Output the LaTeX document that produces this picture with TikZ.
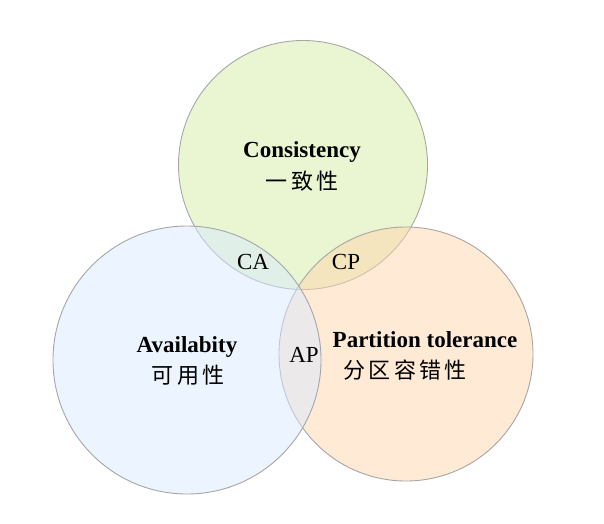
\documentclass[tikz,border=0pt]{standalone}
\usepackage{fontspec}
\setmainfont{Liberation Serif}
\newfontfamily\cjk{Noto Sans CJK SC}
\definecolor{cgreen}{RGB}{213,237,165}
\definecolor{ablue}{RGB}{215,233,255}
\definecolor{porange}{RGB}{255,213,173}
\newcommand{\zhgap}{\kern3.5pt}

\begin{document}
\begin{tikzpicture}[x=1pt, y=-1pt,
  set/.style={circle, draw=gray!70, line width=0.9pt, fill opacity=0.5, inner sep=0pt},
  title/.style={anchor=base, font=\fontsize{23}{26}\selectfont\bfseries},
  zh/.style={font=\fontsize{22}{24}\selectfont\cjk},
  pair/.style={anchor=base, font=\fontsize{23}{26}\selectfont}]
  \useasboundingbox (0,0) rectangle (604,523);
  % the three sets
  \node[set, minimum size=249pt, fill=cgreen] (C) at (303,165) {};
  \node[set, minimum size=254pt, fill=porange] (P) at (406,354) {};
  \node[set, minimum size=268pt, fill=ablue] (A) at (187,360) {};
  % names
  \node[title] (cname) at (302,157) {Consistency};
  \node[zh] (czh) at (302,181) {一\zhgap 致\zhgap 性};
  \node[title] (aname) at (187,352) {Availabity};
  \node[zh] (azh) at (188,375) {可\zhgap 用\zhgap 性};
  \node[title] (pname) at (425,347) {Partition tolerance};
  \node[zh] (pzh) at (405,370) {分\zhgap 区\zhgap 容\zhgap 错\zhgap 性};
  % overlaps
  \node[pair] (ca) at (253,269) {CA};
  \node[pair] (cp) at (346,269) {CP};
  \node[pair] (ap) at (304,362) {AP};
\end{tikzpicture}
\end{document}
